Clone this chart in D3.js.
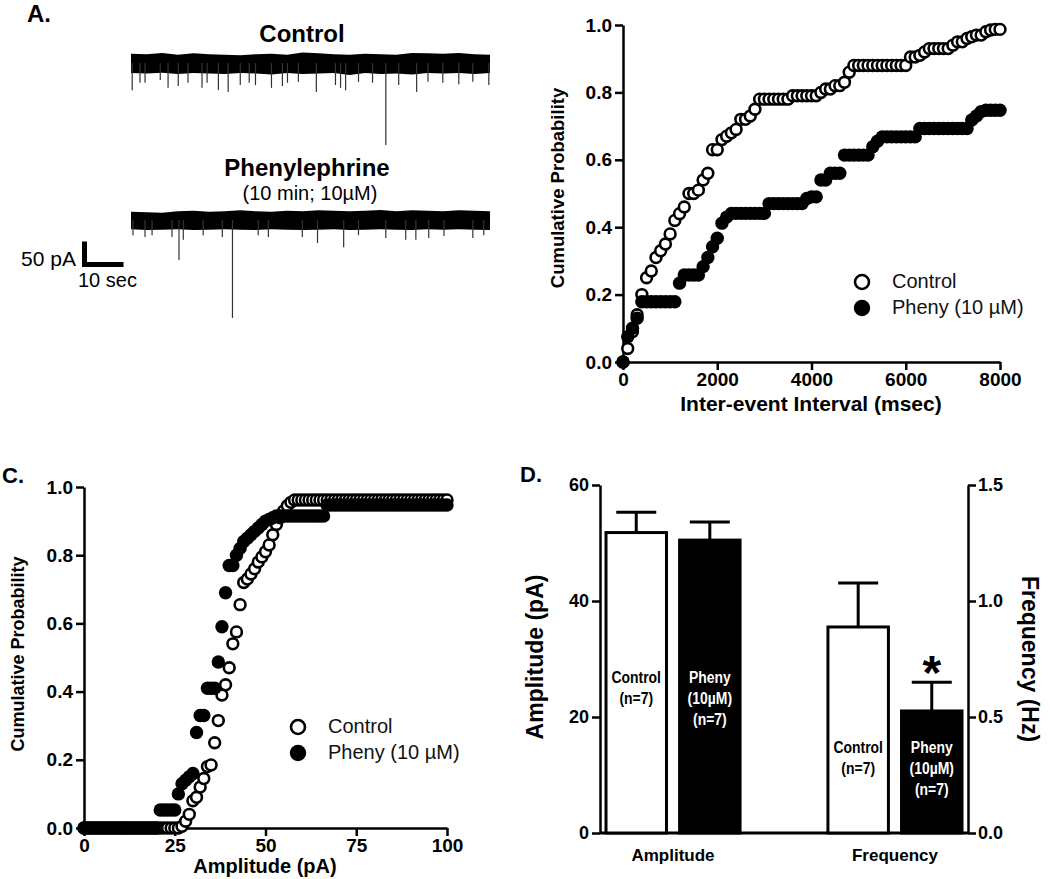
<!DOCTYPE html>
<html>
<head>
<meta charset="utf-8">
<script src="https://cdnjs.cloudflare.com/ajax/libs/d3/7.8.5/d3.min.js"></script>
<style>
  body { margin: 0; background: #fff; }
  svg { display: block; font-family: Arial, "Liberation Sans", sans-serif; }
  .axis { font-family: Arial, "Liberation Sans", sans-serif; }
  .axis path, .axis line { stroke: #000; stroke-width: 2.5; }
  .axis text { font-size: 19px; font-weight: bold; fill: #000; }
  .axisD text { font-size: 18px; }
</style>
</head>
<body>
<script>
// ---------- data ----------

// A. sample traces: event times (s) and peak amplitudes (pA)
var ctrlEventTimes = [0.3, 2.3, 3.6, 7.5, 9.5, 12.1, 14.6, 18.2, 19.5, 22.4, 24.9, 28.0, 30.3, 31.9, 36.0, 38.8,
  40.1, 42.9, 47.5, 52.4, 53.7, 55.0, 58.3, 61.9, 65.3, 68.6, 73.2, 76.1, 79.9, 84.0, 87.6, 91.7];
var ctrlEventAmps = [-59, -43, -43, -37, -54, -50, -43, -54, -43, -59, -63, -48, -43, -48, -54, -50,
  -43, -41, -63, -48, -54, -59, -41, -43, -178, -48, -63, -41, -43, -46, -41, -48];
var phenyEventTimes = [0.5, 3.6, 5.4, 10.5, 12.3, 13.4, 18.5, 23.4, 26.0, 32.6, 35.2, 43.9, 47.8, 54.5,
  58.3, 65.3, 70.4, 73.0, 76.3, 80.2, 87.6, 90.4];
var phenyEventAmps = [-33, -37, -33, -37, -87, -43, -33, -37, -213, -33, -37, -37, -50, -59,
  -33, -39, -43, -43, -39, -35, -39, -33];

// baseline noise envelope (pA), sampled every 4 s
var noiseTimes = [0, 4, 8, 12, 16, 20, 24, 28, 32, 36, 40, 44, 48, 52, 56, 60, 64, 68, 72, 76, 80, 84, 88, 92];
var ctrlNoiseHi = [20, 19, 22, 18, 21, 19, 18, 17, 19, 20, 18, 23, 21, 19, 18, 20, 19, 18, 22, 21, 20, 22, 19, 18];
var ctrlNoiseLo = [-22, -23, -21, -24, -22, -23, -24, -22, -23, -25, -22, -24, -23, -22, -26, -22, -24, -23, -25, -22, -23, -22, -24, -22];
var phenyNoiseHi = [18, 17, 16, 19, 20, 18, 19, 21, 19, 18, 20, 19, 21, 20, 19, 20, 22, 19, 21, 20, 19, 21, 20, 19];
var phenyNoiseLo = [-20, -22, -21, -20, -22, -21, -20, -21, -22, -20, -21, -22, -21, -20, -22, -21, -20, -21, -22, -20, -21, -20, -21, -22];

// B. cumulative inter-event interval, 100 ms bins from 0 to 8000
var isiBins = d3.range(0, 8001, 100);
var ctrlIsiCum = [
  0, 0.04, 0.09, 0.14, 0.20, 0.25, 0.27, 0.31, 0.33, 0.35,
  0.38, 0.42, 0.44, 0.46, 0.50, 0.50, 0.51, 0.54, 0.56, 0.63,
  0.63, 0.66, 0.67, 0.68, 0.69, 0.72, 0.72, 0.73, 0.75, 0.78,
  0.78, 0.78, 0.78, 0.78, 0.78, 0.78, 0.79, 0.79, 0.79, 0.79,
  0.79, 0.79, 0.80, 0.81, 0.81, 0.82, 0.82, 0.83, 0.86, 0.88,
  0.88, 0.88, 0.88, 0.88, 0.88, 0.88, 0.88, 0.88, 0.88, 0.88,
  0.88, 0.905, 0.905, 0.91, 0.92, 0.93, 0.93, 0.93, 0.93, 0.93,
  0.94, 0.95, 0.95, 0.96, 0.965, 0.97, 0.97, 0.98, 0.985, 0.987,
  0.987];
var phenyIsiCum = [
  0, 0.075, 0.10, 0.13, 0.179, 0.179, 0.179, 0.179, 0.179, 0.179,
  0.179, 0.179, 0.234, 0.258, 0.258, 0.258, 0.258, 0.283, 0.31, 0.342,
  0.367, 0.412, 0.43, 0.441, 0.441, 0.441, 0.441, 0.441, 0.441, 0.441,
  0.441, 0.47, 0.47, 0.47, 0.47, 0.47, 0.47, 0.47, 0.47, 0.485,
  0.49, 0.49, 0.54, 0.54, 0.56, 0.56, 0.56, 0.614, 0.614, 0.614,
  0.614, 0.614, 0.614, 0.639, 0.655, 0.668, 0.668, 0.668, 0.668, 0.668,
  0.668, 0.668, 0.668, 0.693, 0.693, 0.693, 0.693, 0.693, 0.693, 0.693,
  0.693, 0.693, 0.693, 0.693, 0.718, 0.73, 0.743, 0.747, 0.747, 0.747,
  0.747];

// C. cumulative amplitude, 1 pA bins from 0 to 100
var ampBins = d3.range(0, 101, 1);
var ctrlAmpCum = [
  0, 0, 0, 0, 0, 0, 0, 0, 0, 0,
  0, 0, 0, 0, 0, 0, 0, 0, 0, 0,
  0, 0, 0, 0, 0, 0, 0, 0.005, 0.02, 0.04,
  0.08, 0.09, 0.12, 0.145, 0.18, 0.185, 0.25, 0.315, 0.39, 0.42,
  0.47, 0.54, 0.575, 0.655, 0.72, 0.73, 0.745, 0.76, 0.78, 0.795,
  0.81, 0.83, 0.86, 0.89, 0.91, 0.93, 0.945, 0.955, 0.962, 0.962,
  0.962, 0.962, 0.962, 0.962, 0.962, 0.962, 0.962, 0.962, 0.962, 0.962,
  0.962, 0.962, 0.962, 0.962, 0.962, 0.962, 0.962, 0.962, 0.962, 0.962,
  0.962, 0.962, 0.962, 0.962, 0.962, 0.962, 0.962, 0.962, 0.962, 0.962,
  0.962, 0.962, 0.962, 0.962, 0.962, 0.962, 0.962, 0.962, 0.962, 0.962,
  0.962];
var phenyAmpCum = [
  0, 0, 0, 0, 0, 0, 0, 0, 0, 0,
  0, 0, 0, 0, 0, 0, 0, 0, 0, 0,
  0, 0.053, 0.053, 0.053, 0.053, 0.053, 0.10, 0.13, 0.14, 0.15,
  0.16, 0.28, 0.33, 0.33, 0.41, 0.41, 0.41, 0.487, 0.59, 0.69,
  0.77, 0.77, 0.80, 0.82, 0.84, 0.85, 0.86, 0.87, 0.88, 0.89,
  0.90, 0.905, 0.91, 0.915, 0.915, 0.915, 0.915, 0.915, 0.915, 0.915,
  0.915, 0.915, 0.915, 0.915, 0.915, 0.915, 0.915, 0.947, 0.947, 0.947,
  0.947, 0.947, 0.947, 0.947, 0.947, 0.947, 0.947, 0.947, 0.947, 0.947,
  0.947, 0.947, 0.947, 0.947, 0.947, 0.947, 0.947, 0.947, 0.947, 0.947,
  0.947, 0.947, 0.947, 0.947, 0.947, 0.947, 0.947, 0.947, 0.947, 0.947,
  0.947];

// D. means and SEM
var groups = ["Amplitude", "Frequency"];
var conditions = ["Control", "Pheny"];
var ampMeans = [51.8, 50.5];
var ampSem = [3.5, 3.1];
var freqMeans = [0.888, 0.526];
var freqSem = [0.19, 0.124];
var barLabels = {
  "Control": ["Control", "(n=7)"],
  "Pheny": ["Pheny", "(10\u00b5M)", "(n=7)"]
};

// ---------- setup ----------
var svgWidth = 1050;
var svgHeight = 879;

var svg = d3.select("body")
  .append("svg")
  .attr("width", svgWidth)
  .attr("height", svgHeight);

svg.append("rect")
  .attr("width", svgWidth)
  .attr("height", svgHeight)
  .attr("fill", "#fff");

function addText(x, y, str, size, weight, anchor) {
  return svg.append("text")
    .attr("x", x)
    .attr("y", y)
    .attr("font-size", size)
    .attr("font-weight", weight || "normal")
    .attr("text-anchor", anchor || "start")
    .attr("fill", "#000")
    .text(str);
}

function addRotText(x, y, str, size, angle) {
  return svg.append("text")
    .attr("transform", `translate(${x}, ${y}) rotate(${angle})`)
    .attr("font-size", size)
    .attr("font-weight", "bold")
    .attr("text-anchor", "middle")
    .attr("fill", "#000")
    .text(str);
}

// panel letters
addText(27, 22, "A.", 24, "bold");
addText(2, 483, "C.", 22, "bold");
addText(520, 482, "D.", 22, "bold");

// ---------- A: traces ----------
var traceX = d3.scaleLinear().domain([0, 92]).range([131, 490]);

function drawTrace(baseY, hi, lo, times, amps) {
  // 50 pA = 23 px
  var y = d3.scaleLinear().domain([0, -50]).range([baseY, baseY + 23]);

  var band = d3.area()
    .x((d, i) => traceX(noiseTimes[i]))
    .y0((d, i) => y(lo[i]))
    .y1((d, i) => y(hi[i]));

  svg.append("path")
    .datum(hi)
    .attr("d", band)
    .attr("fill", "#000");

  svg.append("g").selectAll("line")
    .data(times)
    .enter()
    .append("line")
    .attr("x1", d => traceX(d))
    .attr("x2", d => traceX(d))
    .attr("y1", baseY)
    .attr("y2", (d, i) => y(amps[i]))
    .attr("stroke", "#333")
    .attr("stroke-width", 1.2);

  return y;
}

var ctrlY = drawTrace(63, ctrlNoiseHi, ctrlNoiseLo, ctrlEventTimes, ctrlEventAmps);
var phenyY = drawTrace(220, phenyNoiseHi, phenyNoiseLo, phenyEventTimes, phenyEventAmps);

addText(302, 42, "Control", 24, "bold", "middle");
addText(307, 176, "Phenylephrine", 24, "bold", "middle");
addText(310, 200, "(10 min; 10\u00b5M)", 20, "normal", "middle");

// scale bar: 50 pA / 10 sec
var sbX = 84.5, sbY = 264.5;
var sbH = phenyY(-50) - phenyY(0);
var sbW = traceX(10) - traceX(0);
svg.append("path")
  .attr("d", `M${sbX},${sbY - sbH} L${sbX},${sbY} L${sbX + sbW},${sbY}`)
  .attr("fill", "none")
  .attr("stroke", "#000")
  .attr("stroke-width", 5);
addText(76, 266, "50 pA", 21, "normal", "end");
addText(78, 287, "10 sec", 20, "normal");

// ---------- cumulative panels (B, C) ----------
function drawCumPanel(xScale, yScale, xTicks, bins, ctrlVals, phenyVals) {
  var x0 = xScale.range()[0];
  var y0 = yScale.range()[0];

  var leftAxis = d3.axisLeft(yScale)
    .tickValues([0, 0.2, 0.4, 0.6, 0.8, 1.0])
    .tickFormat(d3.format(".1f"))
    .tickSize(8)
    .tickSizeOuter(0)
    .tickPadding(3);

  var bottomAxis = d3.axisBottom(xScale)
    .tickValues(xTicks)
    .tickFormat(d3.format("d"))
    .tickSize(8)
    .tickSizeOuter(0)
    .tickPadding(3);

  svg.append("g")
    .attr("class", "axis")
    .attr("transform", `translate(${x0}, 0)`)
    .call(leftAxis);

  svg.append("g")
    .attr("class", "axis")
    .attr("transform", `translate(0, ${y0})`)
    .call(bottomAxis);

  // control: open circles
  svg.append("g").selectAll("circle")
    .data(bins)
    .enter()
    .append("circle")
    .attr("cx", d => xScale(d))
    .attr("cy", (d, i) => yScale(ctrlVals[i]))
    .attr("r", 5.4)
    .attr("fill", "#fff")
    .attr("stroke", "#000")
    .attr("stroke-width", 2.6);

  // phenylephrine: filled circles
  svg.append("g").selectAll("circle")
    .data(bins)
    .enter()
    .append("circle")
    .attr("cx", d => xScale(d))
    .attr("cy", (d, i) => yScale(phenyVals[i]))
    .attr("r", 6.7)
    .attr("fill", "#000");
}

function drawLegend(x, y) {
  svg.append("circle").attr("cx", x).attr("cy", y).attr("r", 7)
    .attr("fill", "#fff").attr("stroke", "#000").attr("stroke-width", 2.6);
  svg.append("circle").attr("cx", x).attr("cy", y + 26).attr("r", 8.2)
    .attr("fill", "#000");
  addText(x + 30, y + 6, "Control", 20).attr("fill", "#111");
  addText(x + 30, y + 32, "Pheny (10 \u00b5M)", 20).attr("fill", "#111");
}

// B
var xIsi = d3.scaleLinear().domain([0, 8000]).range([623, 1000]);
var yIsi = d3.scaleLinear().domain([0, 1]).range([362, 25]);
drawCumPanel(xIsi, yIsi, [0, 2000, 4000, 6000, 8000], isiBins, ctrlIsiCum, phenyIsiCum);
drawLegend(862, 282);
addText(811, 411, "Inter-event Interval (msec)", 21, "bold", "middle");
addRotText(564, 188, "Cumulative Probability", 18.5, -90);

// C
var xAmp = d3.scaleLinear().domain([0, 100]).range([84, 447]);
var yAmp = d3.scaleLinear().domain([0, 1]).range([828, 487]);
drawCumPanel(xAmp, yAmp, [0, 25, 50, 75, 100], ampBins, ctrlAmpCum, phenyAmpCum);
drawLegend(298, 727);
addText(265, 873, "Amplitude (pA)", 20, "bold", "middle");
addRotText(24, 654, "Cumulative Probability", 18, -90);

// ---------- D: bar chart ----------
var yAmpD = d3.scaleLinear().domain([0, 60]).range([833, 485]);
var yFreqD = d3.scaleLinear().domain([0, 1.5]).range([833, 485]);

var xGroup = d3.scaleBand()
  .domain(groups)
  .range([606, 962])
  .paddingInner(0.396);

var xCond = d3.scaleBand()
  .domain(conditions)
  .range([0, xGroup.bandwidth()])
  .paddingInner(0.178);

var barData = [];
conditions.forEach(function(c, i) {
  barData.push({ group: "Amplitude", cond: c, mean: ampMeans[i], sem: ampSem[i], y: yAmpD });
  barData.push({ group: "Frequency", cond: c, mean: freqMeans[i], sem: freqSem[i], y: yFreqD });
});

var dLeft = 600, dRight = 968, dBase = 833;

svg.append("g")
  .attr("class", "axis axisD")
  .attr("transform", `translate(${dLeft}, 0)`)
  .call(d3.axisLeft(yAmpD).tickValues([0, 20, 40, 60]).tickSize(8).tickSizeOuter(0).tickPadding(3));

svg.append("g")
  .attr("class", "axis axisD")
  .attr("transform", `translate(${dRight}, 0)`)
  .call(d3.axisRight(yFreqD).tickValues([0, 0.5, 1.0, 1.5]).tickFormat(d3.format(".1f"))
    .tickSize(8).tickSizeOuter(0).tickPadding(2));

svg.append("line")
  .attr("x1", dLeft).attr("x2", dRight)
  .attr("y1", dBase).attr("y2", dBase)
  .attr("stroke", "#000").attr("stroke-width", 3);

// error bars (upward only)
barData.forEach(function(d) {
  var cx = xGroup(d.group) + xCond(d.cond) + xCond.bandwidth() / 2;
  var yTop = d.y(d.mean + d.sem);
  svg.append("line")
    .attr("x1", cx).attr("x2", cx)
    .attr("y1", d.y(d.mean)).attr("y2", yTop)
    .attr("stroke", "#000").attr("stroke-width", 3);
  svg.append("line")
    .attr("x1", cx - 20).attr("x2", cx + 20)
    .attr("y1", yTop).attr("y2", yTop)
    .attr("stroke", "#000").attr("stroke-width", 3);
});

svg.append("g").selectAll("rect")
  .data(barData)
  .enter()
  .append("rect")
  .attr("x", d => xGroup(d.group) + xCond(d.cond))
  .attr("y", d => d.y(d.mean))
  .attr("width", xCond.bandwidth())
  .attr("height", d => dBase - d.y(d.mean))
  .attr("fill", d => d.cond === "Control" ? "#fff" : "#000")
  .attr("stroke", "#000")
  .attr("stroke-width", 3);

// labels inside bars (narrow bold)
var labelTop = { "Amplitude": 683, "Frequency": 753 };
barData.forEach(function(d) {
  var cx = xGroup(d.group) + xCond(d.cond) + xCond.bandwidth() / 2;
  barLabels[d.cond].forEach(function(line, k) {
    svg.append("text")
      .attr("transform", `translate(${cx}, ${labelTop[d.group] + k * 21}) scale(0.82, 1)`)
      .attr("text-anchor", "middle")
      .attr("font-size", 17)
      .attr("font-weight", "bold")
      .attr("fill", d.cond === "Control" ? "#000" : "#fff")
      .text(line);
  });
});

// significance star over Pheny frequency
var starX = xGroup("Frequency") + xCond("Pheny") + xCond.bandwidth() / 2;
addText(starX, 689, "*", 48, "bold", "middle");

// group labels
groups.forEach(function(g) {
  addText(xGroup(g) + xGroup.bandwidth() / 2, 861, g, 17, "bold", "middle");
});

addRotText(543, 657, "Amplitude (pA)", 23, -90);
addRotText(1022, 659, "Frequency (Hz)", 23, 90);
</script>
</body>
</html>
